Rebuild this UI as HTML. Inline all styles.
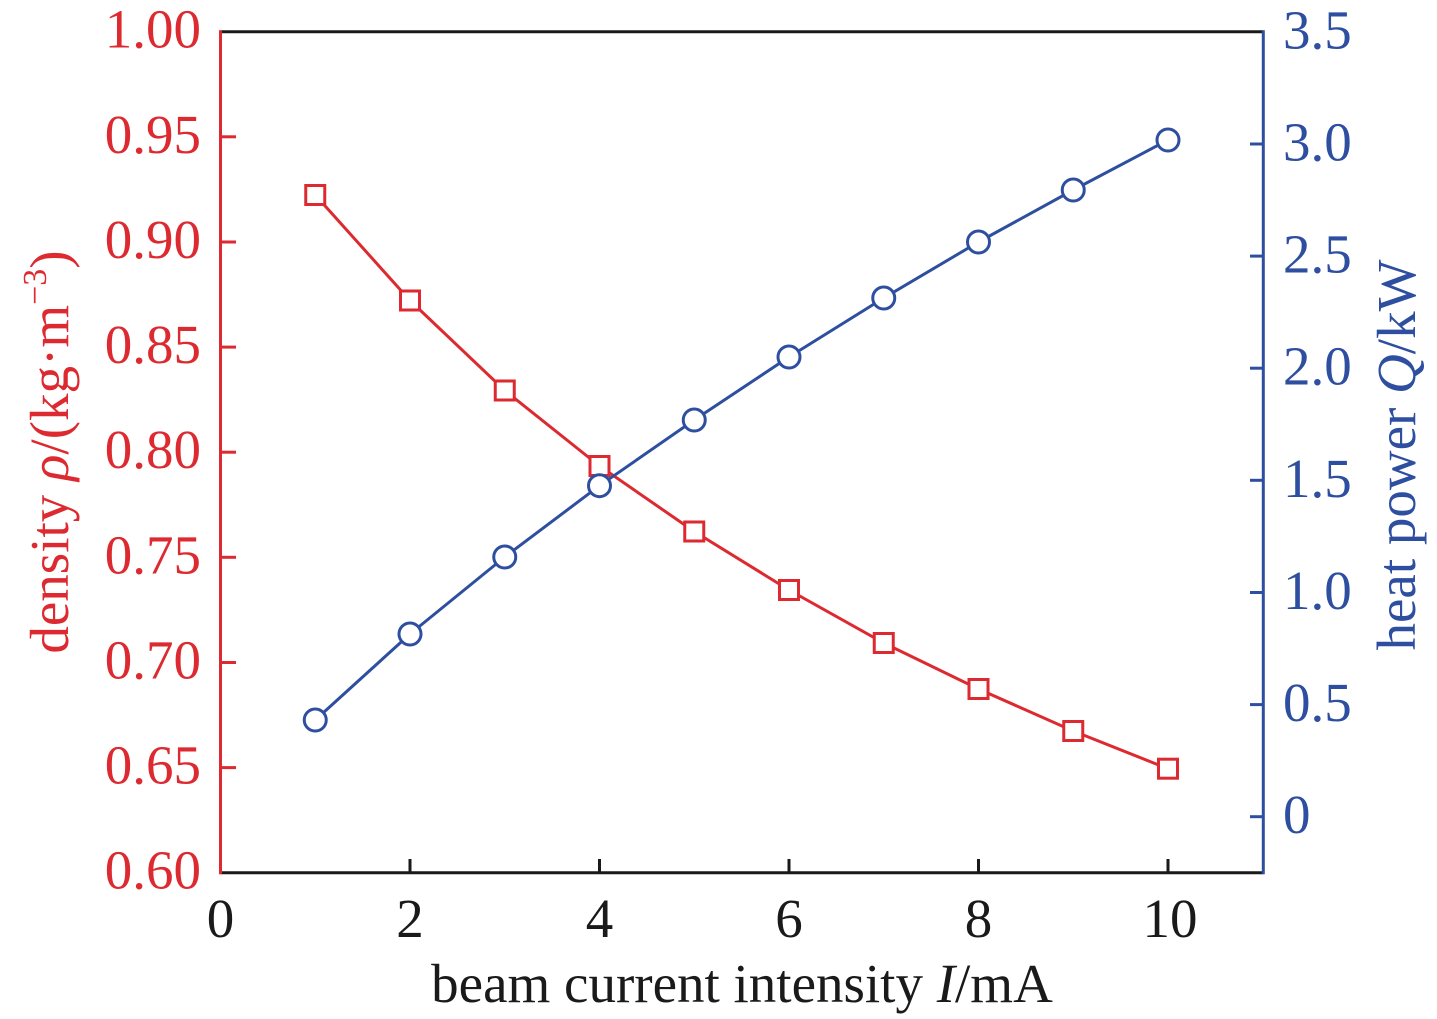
<!DOCTYPE html>
<html>
<head>
<meta charset="utf-8">
<style>
  html,body{margin:0;padding:0;background:#fff;}
  svg{display:block;}
  text{font-family:"Liberation Serif","Times New Roman",serif;}
</style>
</head>
<body>
<svg width="1437" height="1019" viewBox="0 0 1437 1019" xmlns="http://www.w3.org/2000/svg">
  <rect x="0" y="0" width="1437" height="1019" fill="#fff"/>

  <!-- Frame -->
  <line x1="220.5" y1="31.7" x2="1263.3" y2="31.7" stroke="#1a1a1a" stroke-width="3"/>
  <line x1="220.5" y1="872.7" x2="1263.3" y2="872.7" stroke="#1a1a1a" stroke-width="3"/>
  <line x1="220.5" y1="30.2" x2="220.5" y2="874.2" stroke="#dc2a30" stroke-width="3"/>
  <line x1="1263.3" y1="30.2" x2="1263.3" y2="874.2" stroke="#2e4fa0" stroke-width="3"/>

  <!-- Left ticks (red) -->
  <g stroke="#dc2a30" stroke-width="3">
    <line x1="220.5" y1="767.6" x2="236" y2="767.6"/>
    <line x1="220.5" y1="662.5" x2="236" y2="662.5"/>
    <line x1="220.5" y1="557.3" x2="236" y2="557.3"/>
    <line x1="220.5" y1="452.2" x2="236" y2="452.2"/>
    <line x1="220.5" y1="347.1" x2="236" y2="347.1"/>
    <line x1="220.5" y1="242" x2="236" y2="242"/>
    <line x1="220.5" y1="136.8" x2="236" y2="136.8"/>
  </g>
  <!-- Right ticks (blue) -->
  <g stroke="#2e4fa0" stroke-width="3">
    <line x1="1250" y1="816.7" x2="1263.3" y2="816.7"/>
    <line x1="1250" y1="704.6" x2="1263.3" y2="704.6"/>
    <line x1="1250" y1="592.5" x2="1263.3" y2="592.5"/>
    <line x1="1250" y1="480.3" x2="1263.3" y2="480.3"/>
    <line x1="1250" y1="368.2" x2="1263.3" y2="368.2"/>
    <line x1="1250" y1="256.1" x2="1263.3" y2="256.1"/>
    <line x1="1250" y1="144" x2="1263.3" y2="144"/>
  </g>
  <!-- X ticks -->
  <g stroke="#1a1a1a" stroke-width="3">
    <line x1="410" y1="872.7" x2="410" y2="859"/>
    <line x1="599.5" y1="872.7" x2="599.5" y2="859"/>
    <line x1="789" y1="872.7" x2="789" y2="859"/>
    <line x1="978.5" y1="872.7" x2="978.5" y2="859"/>
    <line x1="1168" y1="872.7" x2="1168" y2="859"/>
  </g>

  <!-- Left tick labels -->
  <g fill="#dc2a30" font-size="55" text-anchor="end">
    <text x="201" y="888.7">0.60</text>
    <text x="201" y="783.6">0.65</text>
    <text x="201" y="678.5">0.70</text>
    <text x="201" y="573.3">0.75</text>
    <text x="201" y="468.2">0.80</text>
    <text x="201" y="363.1">0.85</text>
    <text x="201" y="258">0.90</text>
    <text x="201" y="152.8">0.95</text>
    <text x="201" y="47.7">1.00</text>
  </g>
  <!-- Right tick labels -->
  <g fill="#2e4fa0" font-size="55" text-anchor="start">
    <text x="1283" y="833.2">0</text>
    <text x="1283" y="721.1">0.5</text>
    <text x="1283" y="609">1.0</text>
    <text x="1283" y="496.8">1.5</text>
    <text x="1283" y="384.7">2.0</text>
    <text x="1283" y="272.6">2.5</text>
    <text x="1283" y="160.5">3.0</text>
    <text x="1283" y="48.3">3.5</text>
  </g>
  <!-- X tick labels -->
  <g fill="#1a1a1a" font-size="55" text-anchor="middle">
    <text x="220.5" y="937">0</text>
    <text x="410" y="937">2</text>
    <text x="599.5" y="937">4</text>
    <text x="789" y="937">6</text>
    <text x="978.5" y="937">8</text>
    <text x="1170" y="937">10</text>
  </g>

  <!-- Axis titles -->
  <text x="742" y="1002" font-size="55" fill="#1a1a1a" text-anchor="middle">beam current intensity <tspan font-style="italic">I</tspan>/mA</text>
  <text transform="translate(68,452) rotate(-90)" font-size="55" fill="#dc2a30" text-anchor="middle">density <tspan font-style="italic">ρ</tspan>/(kg·m<tspan font-size="34" dy="-22">−3</tspan><tspan dy="22">)</tspan></text>
  <text transform="translate(1415,455) rotate(-90)" font-size="55" fill="#2e4fa0" text-anchor="middle">heat power <tspan font-style="italic">Q</tspan>/kW</text>

  <!-- Red series (density) -->
  <polyline fill="none" stroke="#dc2a30" stroke-width="3" stroke-linejoin="round"
    points="315.25,195 410,300.5 504.75,390.5 599.5,466 694.25,531.5 789,590 883.75,643 978.5,689 1073.25,731 1168,768.7"/>
  <g fill="#fff" stroke="#dc2a30" stroke-width="3">
    <rect x="305.75" y="185.5" width="19" height="19"/>
    <rect x="400.5" y="291" width="19" height="19"/>
    <rect x="495.25" y="381" width="19" height="19"/>
    <rect x="590" y="456.5" width="19" height="19"/>
    <rect x="684.75" y="522" width="19" height="19"/>
    <rect x="779.5" y="580.5" width="19" height="19"/>
    <rect x="874.25" y="633.5" width="19" height="19"/>
    <rect x="969" y="679.5" width="19" height="19"/>
    <rect x="1063.75" y="721.5" width="19" height="19"/>
    <rect x="1158.5" y="759.2" width="19" height="19"/>
  </g>

  <!-- Blue series (heat power) -->
  <polyline fill="none" stroke="#2e4fa0" stroke-width="3" stroke-linejoin="round"
    points="315.25,720 410,634 504.75,557 599.5,485.7 694.25,420 789,357 883.75,298 978.5,242 1073.25,190 1168,140"/>
  <g fill="#fff" stroke="#2e4fa0" stroke-width="3">
    <circle cx="315.25" cy="720" r="11"/>
    <circle cx="410" cy="634" r="11"/>
    <circle cx="504.75" cy="557" r="11"/>
    <circle cx="599.5" cy="485.7" r="11"/>
    <circle cx="694.25" cy="420" r="11"/>
    <circle cx="789" cy="357" r="11"/>
    <circle cx="883.75" cy="298" r="11"/>
    <circle cx="978.5" cy="242" r="11"/>
    <circle cx="1073.25" cy="190" r="11"/>
    <circle cx="1168" cy="140" r="11"/>
  </g>
</svg>
</body>
</html>
